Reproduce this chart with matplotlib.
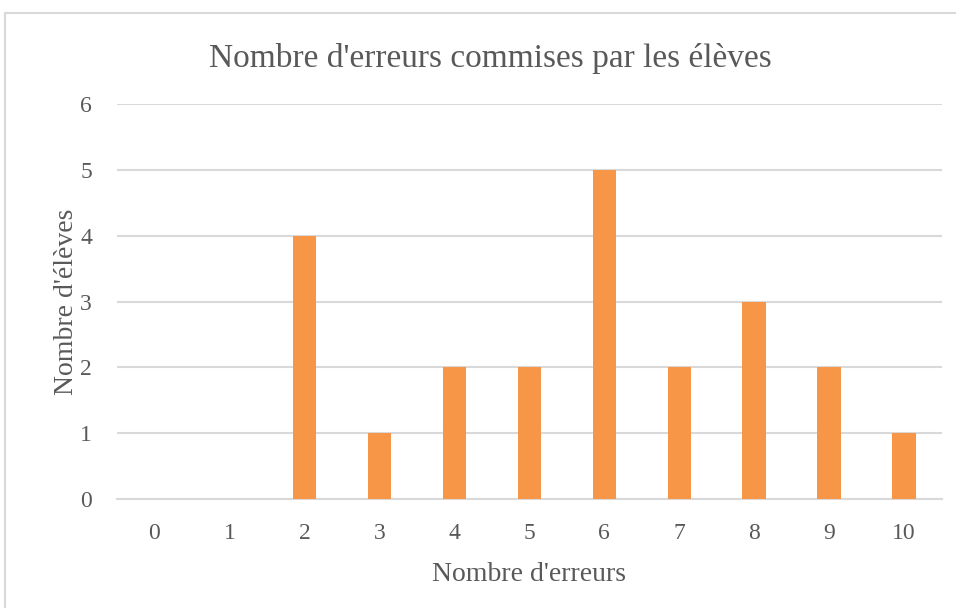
import matplotlib.pyplot as plt
from matplotlib.patches import Rectangle

# Data
erreurs = ['0', '1', '2', '3', '4', '5', '6', '7', '8', '9', '10']
eleves = [0, 0, 4, 1, 2, 2, 5, 2, 3, 2, 1]
y_ticks = [0, 1, 2, 3, 4, 5, 6]

plt.rcParams['font.family'] = ['Liberation Serif', 'DejaVu Serif']
text_color = '#595959'
grid_color = '#d9d9d9'

fig = plt.figure(figsize=(9.56, 6.08), dpi=100)
W, H = 956, 608

# chart frame (light gray border of the embedded chart)
fig.patches.append(Rectangle((5 / W, -0.01), 1.0, (H - 13) / H + 0.01,
                             transform=fig.transFigure, fill=False,
                             edgecolor='#d9d9d9', linewidth=1.5))

ax = fig.add_axes([117 / W, 1 - 499 / H, (941.5 - 117) / W, (499 - 104) / H])

x = list(range(len(erreurs)))
ax.bar(x, eleves, width=0.31, color='#f79646', zorder=3)

ax.set_xlim(-0.5, len(erreurs) - 0.5)
ax.set_ylim(0, 6)
ax.set_xticks(x)
ax.set_xticklabels(erreurs)
ax.set_yticks(y_ticks)

ax.yaxis.grid(True, color=grid_color, linewidth=1.5, zorder=0)
for s in ['top', 'right', 'left']:
    ax.spines[s].set_visible(False)
ax.spines['bottom'].set_color(grid_color)
ax.spines['bottom'].set_linewidth(1.5)
ax.tick_params(axis='both', length=0, labelsize=17, colors=text_color)
ax.tick_params(axis='x', pad=17)
ax.tick_params(axis='y', pad=18)

ax.set_xlabel("Nombre d'erreurs", fontsize=20, color=text_color, labelpad=13)
ax.set_ylabel("Nombre d'élèves", fontsize=20, color=text_color, labelpad=1)

fig.text(490 / W, 1 - 59 / H, "Nombre d'erreurs commises par les élèves",
         ha='center', va='center', fontsize=24, color=text_color)

fig.savefig('out.png', dpi=100, facecolor='white')
